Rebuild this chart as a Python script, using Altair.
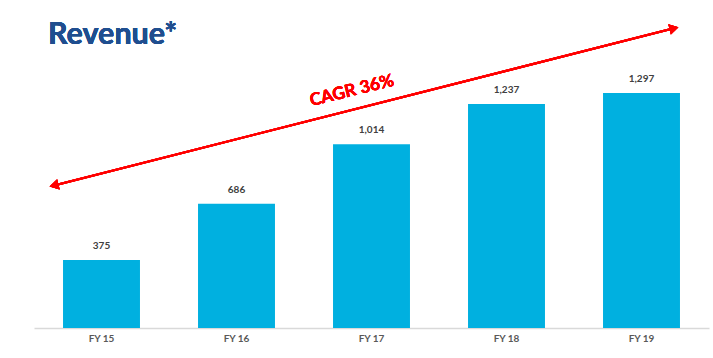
import altair as alt
import pandas as pd

years = ["FY 15", "FY 16", "FY 17", "FY 18", "FY 19"]
revenue = [375, 686, 1014, 1237, 1297]
labels = ["375", "686", "1,014", "1,237", "1,297"]

df = pd.DataFrame({"year": years, "revenue": revenue, "label": labels})

W, H = 675, 308

base = alt.Chart(df)

x = alt.X("year:N", sort=years, title=None,
          scale=alt.Scale(paddingInner=0.43, paddingOuter=0.215),
          axis=alt.Axis(labelAngle=0, labelFont="Lato", labelFontWeight="bold",
                        labelFontSize=10, labelColor="#595959", ticks=False,
                        domainColor="#d9d9d9", domainWidth=1.5, labelPadding=5))
y = alt.Y("revenue:Q", scale=alt.Scale(domain=[0, 1700]), axis=None)

bars = base.mark_bar(color="#00B0E0").encode(x=x, y=y)
text = base.mark_text(dy=-9, baseline="bottom", font="Lato", fontWeight="bold",
                      fontSize=10, color="#404040").encode(x=x, y=y, text="label:N")

ox, oy = 34, 20
arrow_line = base.mark_rule(color="#FF0000", strokeWidth=2).encode(
    x=alt.value(54 - ox), y=alt.value(185.5 - oy),
    x2=alt.value(672 - ox), y2=alt.value(28.8 - oy))
head_r = base.mark_point(shape="triangle-right", filled=True, color="#FF0000",
                         size=110, angle=346, opacity=1).encode(
    x=alt.value(674 - ox), y=alt.value(28.3 - oy))
head_l = base.mark_point(shape="triangle-left", filled=True, color="#FF0000",
                         size=110, angle=346, opacity=1).encode(
    x=alt.value(54 - ox), y=alt.value(185.5 - oy))
cagr = base.mark_text(text="CAGR 36%", font="Lato", fontWeight="bold", fontSize=17.5,
                      color="#FF0000", angle=346).encode(
    x=alt.value(352 - ox), y=alt.value(91 - oy))
title = base.mark_text(text="Revenue*", font="Lato", fontWeight="bold", fontSize=30.5,
                       color="#1F4E8F", align="left", baseline="alphabetic").encode(
    x=alt.value(48 - ox), y=alt.value(44 - oy))

chart = alt.layer(bars, text, arrow_line, head_r, head_l, cagr, title).properties(
    width=W, height=H,
    background="white",
    autosize=alt.AutoSizeParams(type="none"),
    padding={"left": ox, "top": oy, "right": 4, "bottom": 30},
).configure_view(stroke=None, strokeWidth=0)

chart.save("out.html", embed_options={"renderer": "svg", "actions": False})
